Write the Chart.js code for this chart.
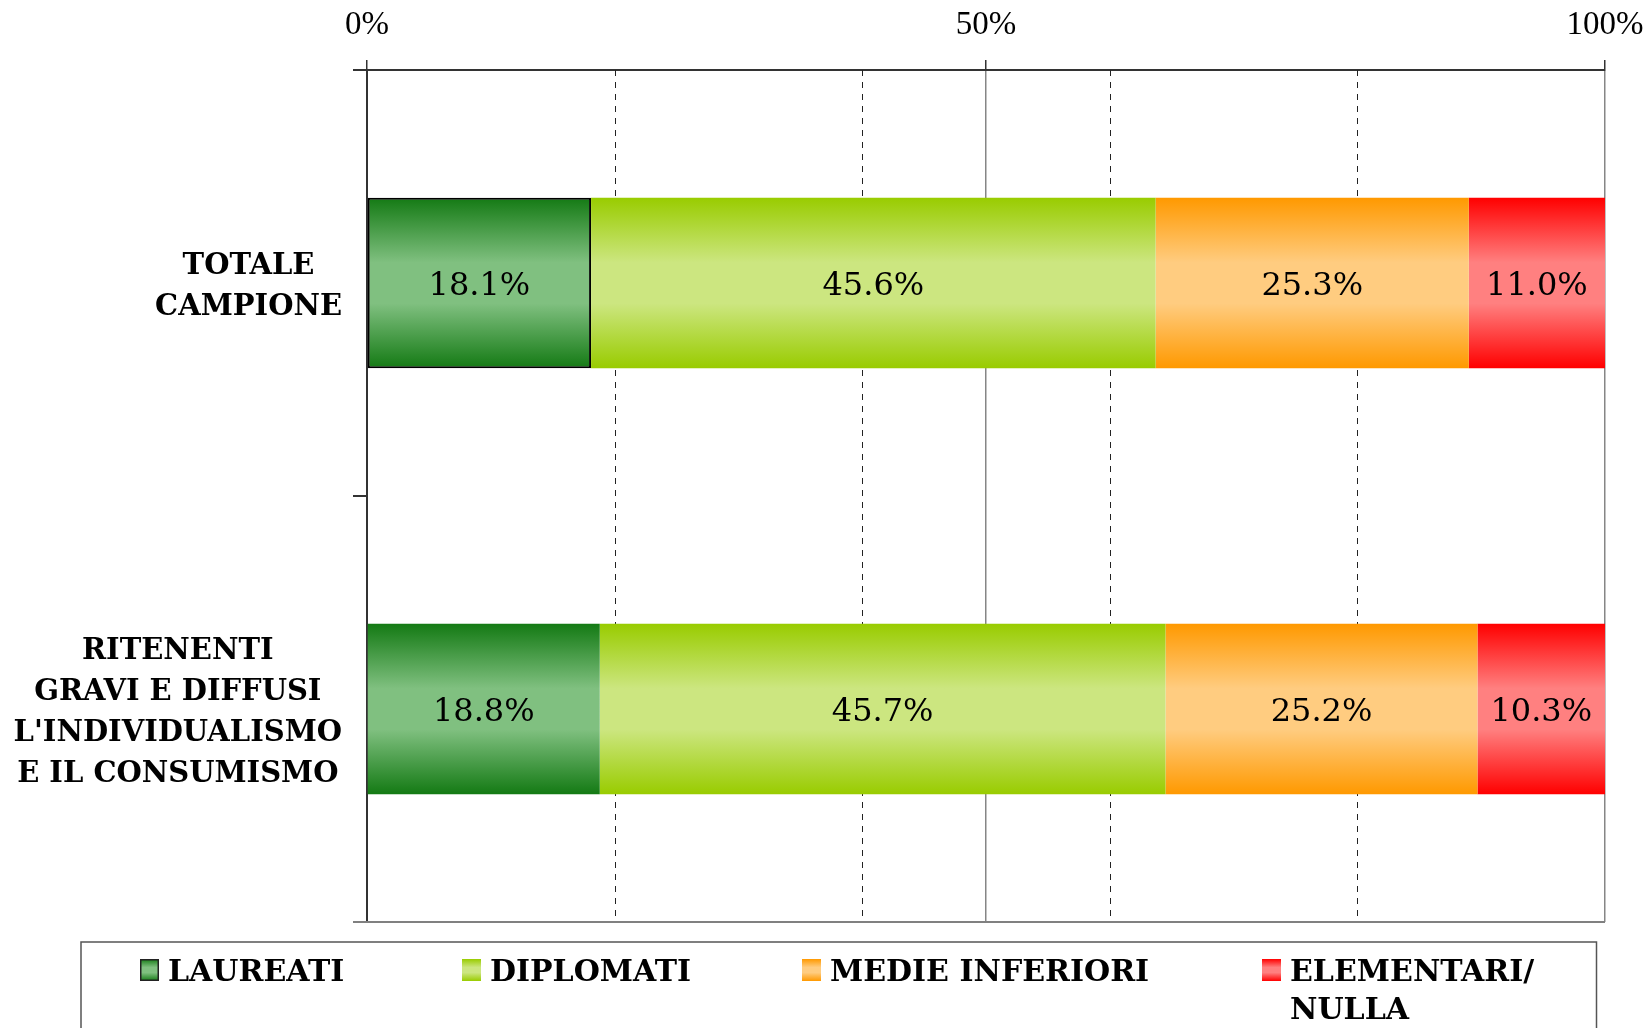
<!DOCTYPE html>
<html><head><meta charset="utf-8">
<script src="https://cdn.jsdelivr.net/npm/chart.js@4/dist/chart.umd.min.js"></script>
<style>html,body{margin:0;padding:0;background:#fff;}#wrap{width:1648px;height:1028px;}</style>
</head><body><div id="wrap"><canvas id="c" width="1648" height="1028"></canvas></div>
<script>
const categories = [['TOTALE', 'CAMPIONE'], ['RITENENTI', 'GRAVI E DIFFUSI', "L'INDIVIDUALISMO", 'E IL CONSUMISMO']];
const seriesNames = ['LAUREATI', 'DIPLOMATI', 'MEDIE INFERIORI', 'ELEMENTARI/NULLA'];
const legendLines = [['LAUREATI'], ['DIPLOMATI'], ['MEDIE INFERIORI'], ['ELEMENTARI/', 'NULLA']];
const laureati = [18.1, 18.8];
const diplomati = [45.6, 45.7];
const medieInferiori = [25.3, 25.2];
const elementariNulla = [11.0, 10.3];
const xTickValues = [0, 50, 100];
const xMinorGrid = [20, 40, 60, 80];

const BAR_FRAC = 0.4;
const palette = [['#147a14', '#80c080'], ['#99cc00', '#cce680'], ['#ff9900', '#ffcc80'], ['#ff0000', '#ff8080']];

function makeGrad(c, y0, y1, i) {
  const [dark, light] = palette[i];
  const g = c.createLinearGradient(0, y0, 0, y1);
  g.addColorStop(0, dark); g.addColorStop(0.38, light); g.addColorStop(0.62, light); g.addColorStop(1, dark);
  return g;
}
function barBg(i) {
  return (ctx) => {
    const chart = ctx.chart, ca = chart.chartArea;
    if (!ca || ctx.dataIndex === undefined) return palette[i][0];
    const cy = chart.scales.y.getPixelForValue(ctx.dataIndex);
    const h = (ca.bottom - ca.top) / categories.length * BAR_FRAC;
    return makeGrad(chart.ctx, cy - h / 2, cy + h / 2, i);
  };
}

const seriesData = [laureati, diplomati, medieInferiori, elementariNulla];
const datasets = seriesData.map((d, i) => ({
  label: seriesNames[i],
  data: d,
  backgroundColor: barBg(i),
  borderColor: '#000',
  borderWidth: (ctx) => (i === 0 && ctx.dataIndex === 0) ? 2 : 0,
  borderSkipped: false,
  categoryPercentage: 1,
  barPercentage: BAR_FRAC
}));

const extras = {
  id: 'extras',
  beforeDatasetsDraw(chart) {
    const c = chart.ctx, ca = chart.chartArea, xs = chart.scales.x;
    c.save();
    c.strokeStyle = '#222'; c.lineWidth = 1; c.setLineDash([6, 6]);
    xMinorGrid.forEach(v => {
      const x = Math.round(xs.getPixelForValue(v)) + 0.5;
      c.beginPath(); c.moveTo(x, ca.top); c.lineTo(x, ca.bottom); c.stroke();
    });
    c.setLineDash([]);
    c.restore();
  },
  afterDraw(chart) {
    const c = chart.ctx, ca = chart.chartArea, ys = chart.scales.y;
    c.save();
    // bottom line of plot
    c.strokeStyle = '#808080'; c.lineWidth = 2;
    c.beginPath(); c.moveTo(ca.left - 14, ca.bottom); c.lineTo(ca.right, ca.bottom); c.stroke();
    // data labels
    c.fillStyle = '#000';
    c.font = '32px "DejaVu Serif"';
    c.textAlign = 'center'; c.textBaseline = 'middle';
    chart.data.datasets.forEach((ds, i) => {
      chart.getDatasetMeta(i).data.forEach((el, j) => {
        const p = el.getCenterPoint();
        c.fillText(ds.data[j].toFixed(1) + '%', p.x, p.y + 4);
      });
    });
    // category labels: right-aligned block, lines centered
    c.font = 'bold 29px "DejaVu Serif"';
    const right = 342, lh = 41;
    categories.forEach((lines, j) => {
      const cy = ys.getPixelForValue(j) + 4;
      const w = Math.max(...lines.map(l => c.measureText(l).width));
      const cx = right - w / 2;
      lines.forEach((l, k) => {
        c.fillText(l, cx, cy + (k - (lines.length - 1) / 2) * lh);
      });
    });
    // legend
    c.strokeStyle = '#555'; c.lineWidth = 1.5;
    c.strokeRect(81, 942, 1515.5, 120);
    const lx = [140, 462, 802, 1262];
    c.textAlign = 'left';
    c.font = 'bold 30px "DejaVu Serif"';
    legendLines.forEach((lines, i) => {
      const x = lx[i], y0 = 959, sh = 22, sw = 19;
      c.fillStyle = makeGrad(c, y0, y0 + sh, i);
      c.fillRect(x, y0, sw, sh);
      if (i === 0) { c.strokeStyle = '#222'; c.lineWidth = 1.5; c.strokeRect(x + 0.75, y0 + 0.75, sw - 1.5, sh - 1.5); }
      c.fillStyle = '#000';
      lines.forEach((l, k) => c.fillText(l, x + 28, 973 + k * 38));
    });
    c.restore();
  }
};

new Chart(document.getElementById('c'), {
  type: 'bar',
  data: { labels: categories.map(l => l.join(' ')), datasets },
  plugins: [extras],
  options: {
    indexAxis: 'y',
    responsive: false,
    animation: false,
    devicePixelRatio: 1,
    layout: { padding: { left: 0, top: 0, right: 43, bottom: 106 } },
    plugins: { legend: { display: false }, tooltip: { enabled: false } },
    scales: {
      x: {
        position: 'top', stacked: true, min: 0, max: 100,
        afterFit: s => { s.height = 70; s.paddingRight = 0; s.paddingLeft = 0; },
        afterBuildTicks: s => { s.ticks = xTickValues.map(v => ({ value: v })); },
        ticks: { callback: v => v + '%', font: { family: 'Liberation Serif', size: 33 }, color: '#000', padding: 15, maxRotation: 0, autoSkip: false },
        grid: { color: '#868686', lineWidth: 1.5, tickLength: 10, tickColor: '#333' },
        border: { color: '#333', width: 2 }
      },
      y: {
        stacked: true,
        afterFit: s => { s.width = 367; },
        ticks: { display: false },
        grid: { offset: true, drawOnChartArea: false, tickLength: 14, color: '#333', lineWidth: 2 },
        border: { color: '#333', width: 2 }
      }
    }
  }
});
</script></body></html>
